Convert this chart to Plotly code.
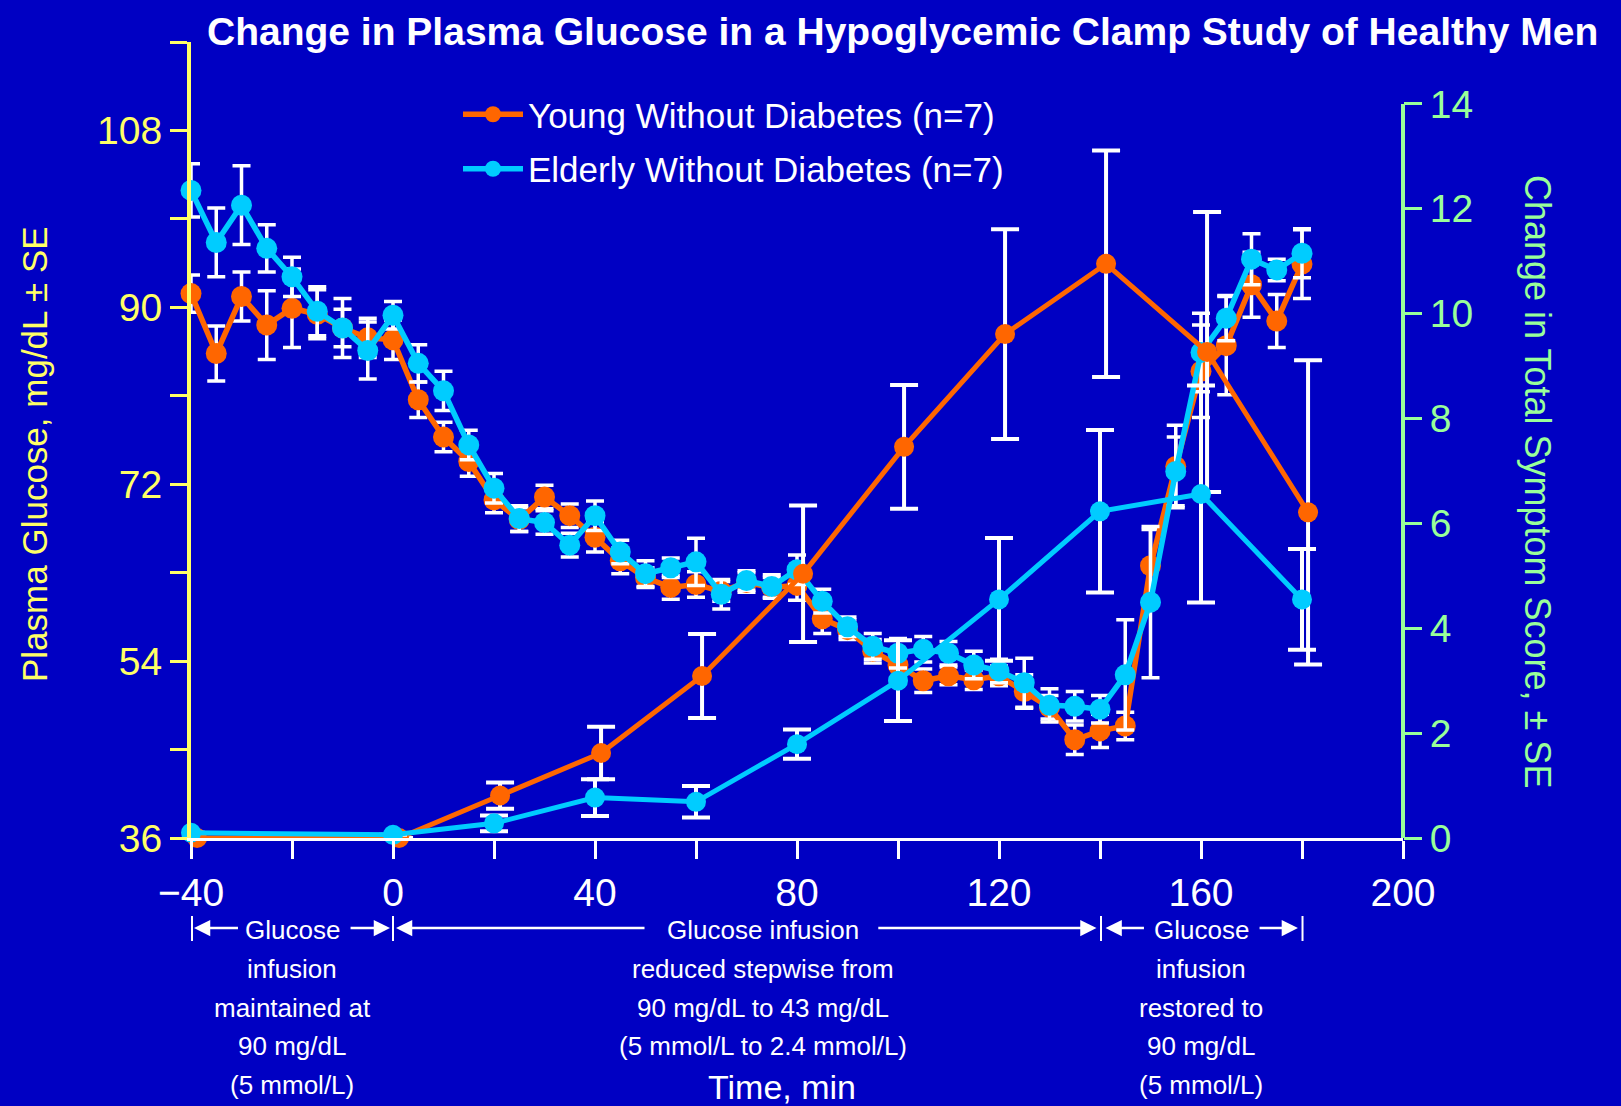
import plotly.graph_objects as go

# ---------------- data ----------------
time_glucose = [-40, -35, -30, -25, -20, -15, -10, -5, 0, 5, 10, 15, 20, 25, 30, 35, 40, 45, 50, 55,
                60, 65, 70, 75, 80, 85, 90, 95, 100, 105, 110, 115, 120, 125, 130, 135, 140, 145,
                150, 155, 160, 165, 170, 175, 180]

young_glucose = [91.4, 85.3, 91.1, 88.2, 89.9, 89.3, 87.9, 86.9, 86.7, 80.6, 76.8, 74.3, 70.4, 68.4,
                 70.7, 68.8, 66.6, 64.2, 62.5, 61.5, 61.8, 61.1, 62.0, 61.5, 61.7, 58.3, 57.2, 55.0,
                 53.6, 52.0, 52.5, 52.1, 52.5, 50.9, 49.3, 46.0, 46.9, 47.4, 63.7, 73.8, 83.5, 86.1,
                 92.3, 88.6, 94.4]
young_glucose_se = [1.9, 2.8, 2.5, 3.5, 4.0, 2.5, 3.0, 2.0, 2.0, 1.8, 1.5, 1.5, 1.3, 1.2, 1.2, 1.2,
                    1.5, 1.3, 1.0, 1.2, 1.3, 1.0, 1.0, 1.0, 1.5, 1.5, 1.0, 1.2, 1.3, 1.2, 0.9, 1.0,
                    1.0, 1.7, 1.2, 1.5, 1.7, 1.4, 3.7, 4.2, 4.7, 5.0, 3.3, 2.7, 3.5]

elderly_glucose = [101.9, 96.6, 100.4, 96.0, 93.1, 89.6, 87.9, 85.6, 89.2, 84.3, 81.5, 76.0, 71.6,
                   68.5, 68.1, 65.8, 68.8, 65.1, 62.9, 63.5, 64.1, 60.8, 62.2, 61.6, 63.3, 60.1,
                   57.5, 55.5, 54.8, 55.2, 54.8, 53.6, 53.0, 51.8, 49.5, 49.4, 49.1, 52.6, 60.0,
                   73.3, 85.4, 88.9, 94.9, 93.8, 95.5]
elderly_glucose_se = [2.7, 3.5, 4.0, 2.4, 2.0, 2.5, 1.9, 2.9, 1.4, 1.9, 2.0, 1.5, 1.5, 1.3, 1.2, 1.2,
                      1.5, 1.2, 1.3, 1.0, 2.4, 1.5, 1.0, 1.2, 1.5, 1.2, 1.0, 1.3, 1.5, 1.3, 1.2, 1.4,
                      1.2, 2.5, 1.7, 1.5, 1.4, 5.6, 7.7, 3.5, 4.0, 2.3, 2.6, 1.1, 2.5]

time_symptom_young = [-38.8, 1.2, 21.2, 41.2, 61.2, 81.2, 101.2, 121.2, 141.2, 161.2, 181.2]
young_symptom = [0.0, 0.0, 0.81, 1.62, 3.09, 5.04, 7.46, 9.61, 10.95, 9.27, 6.21]
young_symptom_se = [0.0, 0.0, 0.25, 0.5, 0.8, 1.3, 1.18, 2.0, 2.16, 2.67, 2.9]

time_symptom_elderly = [-40, 0, 20, 40, 60, 80, 100, 120, 140, 160, 180]
elderly_symptom = [0.1, 0.06, 0.28, 0.77, 0.69, 1.79, 3.0, 4.55, 6.23, 6.56, 4.55]
elderly_symptom_se = [0.0, 0.0, 0.15, 0.35, 0.3, 0.28, 0.77, 1.17, 1.55, 2.07, 0.96]

x_ticks = [-40, -20, 0, 20, 40, 60, 80, 100, 120, 140, 160, 180, 200]
x_ticklabels = ["\u221240", "", "0", "", "40", "", "80", "", "120", "", "160", "", "200"]
y_ticks = [36, 45, 54, 63, 72, 81, 90, 99, 108, 117]
y_ticklabels = ["36", "", "54", "", "72", "", "90", "", "108", ""]
y2_ticks = [0, 2, 4, 6, 8, 10, 12, 14]

block1_lines = ["Glucose", "infusion", "maintained at", "90 mg/dL", "(5 mmol/L)"]
block2_lines = ["Glucose infusion", "reduced stepwise from", "90 mg/dL to 43 mg/dL",
                "(5 mmol/L to 2.4 mmol/L)"]
block3_lines = ["Glucose", "infusion", "restored to", "90 mg/dL", "(5 mmol/L)"]

# ---------------- style ----------------
BG = "#0000C3"
ORANGE = "#FF6600"
CYAN = "#00CCFF"
YELLOW = "#FFFF66"
GREEN = "#99FF99"
WHITE = "#FFFFFF"
FONT = "Liberation Sans, Arial, sans-serif"

W, H = 1621, 1106
L, R, T, B = 191, 218, 42, 268
PLOT_H = H - T - B


def py(pix):
    """pixel y (from top of page) -> paper y"""
    return (H - B - pix) / PLOT_H


def px(pix):
    return (pix - L) / (W - L - R)


fig = go.Figure()

fig.add_trace(go.Scatter(
    x=time_glucose, y=young_glucose, mode="lines+markers", name="Young Without Diabetes (n=7)",
    legendgroup="young",
    line=dict(color=ORANGE, width=5.5), marker=dict(color=ORANGE, size=21),
    error_y=dict(type="data", array=young_glucose_se, color=WHITE, thickness=3.5, width=9),
    cliponaxis=False))
fig.add_trace(go.Scatter(
    x=time_glucose, y=elderly_glucose, mode="lines+markers", name="Elderly Without Diabetes (n=7)",
    legendgroup="elderly",
    line=dict(color=CYAN, width=5.5), marker=dict(color=CYAN, size=21),
    error_y=dict(type="data", array=elderly_glucose_se, color=WHITE, thickness=3.5, width=9),
    cliponaxis=False))
fig.add_trace(go.Scatter(
    x=time_symptom_young, y=young_symptom, mode="lines+markers", yaxis="y2", showlegend=False,
    line=dict(color=ORANGE, width=5), marker=dict(color=ORANGE, size=20),
    error_y=dict(type="data", array=young_symptom_se, color=WHITE, thickness=4, width=14),
    cliponaxis=False))
fig.add_trace(go.Scatter(
    x=time_symptom_elderly, y=elderly_symptom, mode="lines+markers", yaxis="y2", showlegend=False,
    line=dict(color=CYAN, width=5), marker=dict(color=CYAN, size=20),
    error_y=dict(type="data", array=elderly_symptom_se, color=WHITE, thickness=4, width=14),
    cliponaxis=False))

annotations = []
# title
annotations.append(dict(text="<b>Change in Plasma Glucose in a Hypoglycemic Clamp Study of Healthy Men</b>",
                        xref="paper", yref="paper", x=px(205), y=py(31), xanchor="left", yanchor="middle",
                        showarrow=False, font=dict(family=FONT, size=39, color=WHITE)))
# axis titles
annotations.append(dict(text="Plasma Glucose, mg/dL \u00b1 SE", xref="paper", yref="paper",
                        x=px(34), y=py(454), textangle=-90, showarrow=False,
                        xanchor="center", yanchor="middle",
                        font=dict(family=FONT, size=35, color=YELLOW)))
annotations.append(dict(text="Change in Total Symptom Score, \u00b1 SE", xref="paper", yref="paper",
                        x=px(1538), y=py(481), textangle=90, showarrow=False,
                        xanchor="center", yanchor="middle",
                        font=dict(family=FONT, size=36, color=GREEN)))

line_ys = [930, 969, 1008, 1046, 1085]
for lines, xc in ((block1_lines, -20), (block2_lines, 73.3), (block3_lines, 160)):
    for txt, yy in zip(lines, line_ys):
        annotations.append(dict(text=txt, xref="x", yref="paper", x=xc, y=py(yy),
                                xanchor="center", yanchor="middle", showarrow=False,
                                font=dict(family=FONT, size=26, color=WHITE)))
annotations.append(dict(text="Time, min", xref="x", yref="paper", x=77, y=py(1087),
                        xanchor="center", yanchor="middle", showarrow=False,
                        font=dict(family=FONT, size=34, color=WHITE)))

ARROW_Y = py(928)
arrows = [(-39.4, -30.4), (-0.6, -8.7), (0.6, 50.1), (139.3, 95.8), (141.1, 149.0), (179.2, 171.3)]
for head, tail in arrows:
    annotations.append(dict(text="", xref="x", yref="paper", x=head, y=ARROW_Y,
                            axref="x", ayref="pixel", ax=tail, ay=0, showarrow=True,
                            arrowhead=2, arrowsize=1.3, arrowwidth=2.5, arrowcolor=WHITE))

shapes = []
for xb in (-39.8, 0, 140.2, 180.1):
    shapes.append(dict(type="line", xref="x", yref="paper", x0=xb, x1=xb, y0=py(916), y1=py(941),
                       line=dict(color=WHITE, width=2)))
# right axis line (0 to 14 only)
shapes.append(dict(type="line", xref="paper", yref="y2", x0=1, x1=1, y0=0, y1=14,
                   line=dict(color=GREEN, width=4)))

fig.update_layout(
    width=W, height=H, paper_bgcolor=BG, plot_bgcolor=BG,
    margin=dict(l=L, r=R, t=T, b=B),
    showlegend=True,
    legend=dict(x=px(458), y=py(85), xanchor="left", yanchor="top", bgcolor="rgba(0,0,0,0)",
                font=dict(family=FONT, size=35, color=WHITE), itemwidth=60, tracegroupgap=6,
                traceorder="grouped"),
    xaxis=dict(range=[-40, 200], tickvals=x_ticks, ticktext=x_ticklabels, ticks="outside",
               ticklen=18, tickwidth=3, tickcolor=WHITE, showline=True, linecolor=WHITE, linewidth=3,
               showgrid=False, zeroline=False,
               tickfont=dict(family=FONT, size=39, color=WHITE)),
    yaxis=dict(range=[36, 117], tickvals=y_ticks, ticktext=y_ticklabels, ticks="outside",
               ticklen=17, tickwidth=3, tickcolor=YELLOW, showline=True, linecolor=YELLOW, linewidth=4,
               showgrid=False, zeroline=False,
               tickfont=dict(family=FONT, size=39, color=YELLOW)),
    yaxis2=dict(range=[0, 15.18], overlaying="y", side="right", tickvals=y2_ticks, ticks="outside",
                ticklen=18, tickwidth=3, tickcolor=GREEN, showline=False, showgrid=False,
                zeroline=False, tickfont=dict(family=FONT, size=39, color=GREEN)),
    annotations=annotations, shapes=shapes,
)

fig.write_html("out.html")
